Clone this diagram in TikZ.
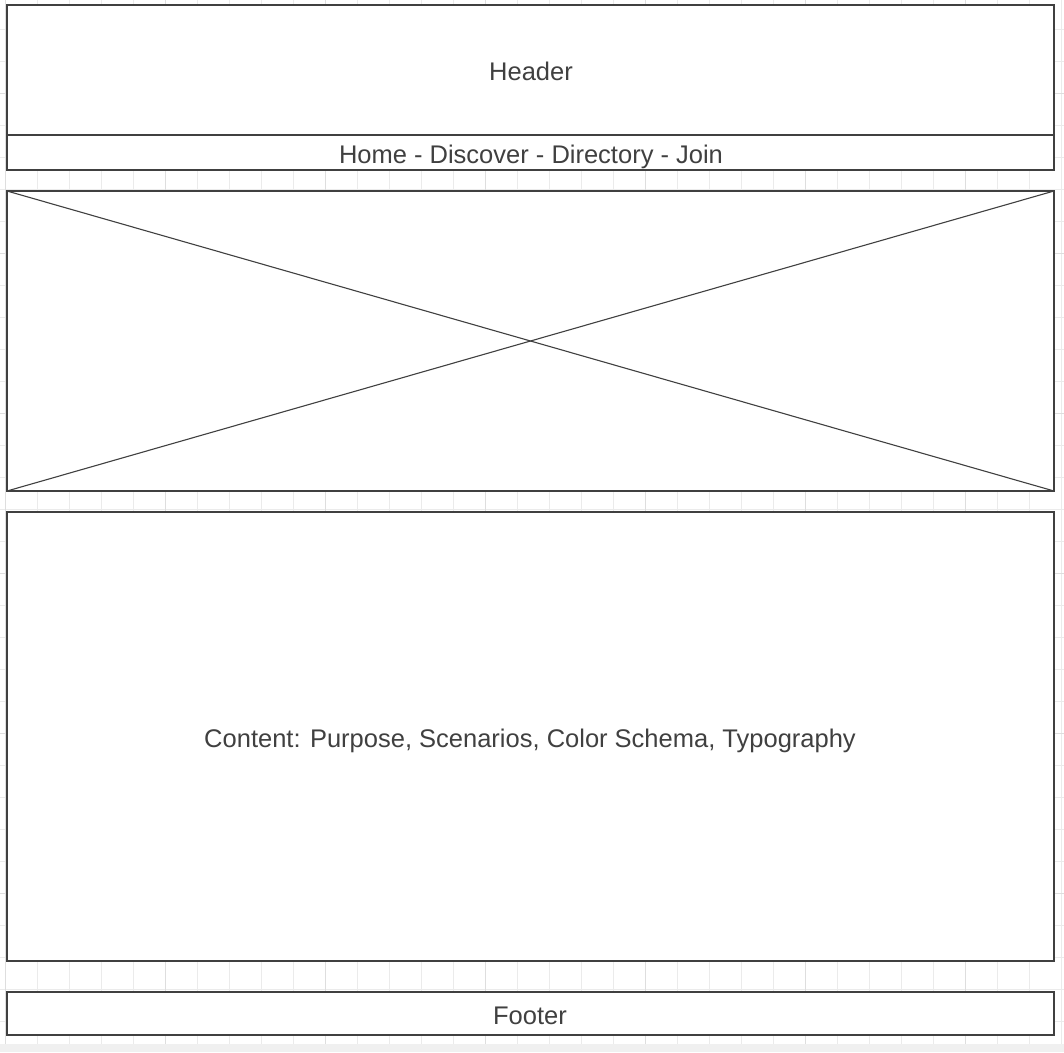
\documentclass[tikz,border=0pt]{standalone}
\usepackage{fontspec}
\setmainfont{Liberation Sans}
\begin{document}
\begin{tikzpicture}[x=1pt,y=-1pt,
  box/.style={draw=black!75, line width=1.1pt, fill=white},
  lbl/.style={text=black!75, font=\fontsize{25.5}{30}\selectfont, inner sep=0pt},
  gridminor/.style={draw=black!8, line width=1pt},
  gridmajor/.style={draw=black!13, line width=1pt}]
\useasboundingbox (0,0) rectangle (1064,1052);
\fill[white] (0,0) rectangle (1064,1052);
% grid
\foreach \k in {0,...,33} {\draw[gridminor] (5+32*\k,0) -- (5+32*\k,1044);}
\foreach \k in {0,...,31} {\draw[gridminor] (0,29+32*\k) -- (1064,29+32*\k);}
\foreach \x in {5,165,325,485,645,805,965} {\draw[gridmajor] (\x,0) -- (\x,1044);}
\foreach \y in {93,253,413,573,733,893} {\draw[gridmajor] (0,\y) -- (1064,\y);}
\fill[black!6] (0,1044) rectangle (1064,1052);
% boxes
\path[box] (7,5) rectangle (1054,135);
\node[lbl] (header) at (531,71) {Header};
\path[box] (7,135) rectangle (1054,170);
\node[lbl] (nav) at (531,156.5) {Home - Discover - Directory - Join};
\path[box] (7,191) rectangle (1054,491);
\coordinate (imgTL) at (7,191);
\coordinate (imgTR) at (1054,191);
\coordinate (imgBL) at (7,491);
\coordinate (imgBR) at (1054,491);
\draw[black!75, line width=1.1pt] (imgTL) -- (imgBR);
\draw[black!75, line width=1.1pt] (imgBL) -- (imgTR);
\path[box] (7,512) rectangle (1054,961);
\node[lbl] (content) at (530,741) {Content: Purpose, Scenarios, Color Schema, Typography};
\path[box] (7,992) rectangle (1054,1035);
\node[lbl] (footer) at (530,1016) {Footer};
\end{tikzpicture}
\end{document}
